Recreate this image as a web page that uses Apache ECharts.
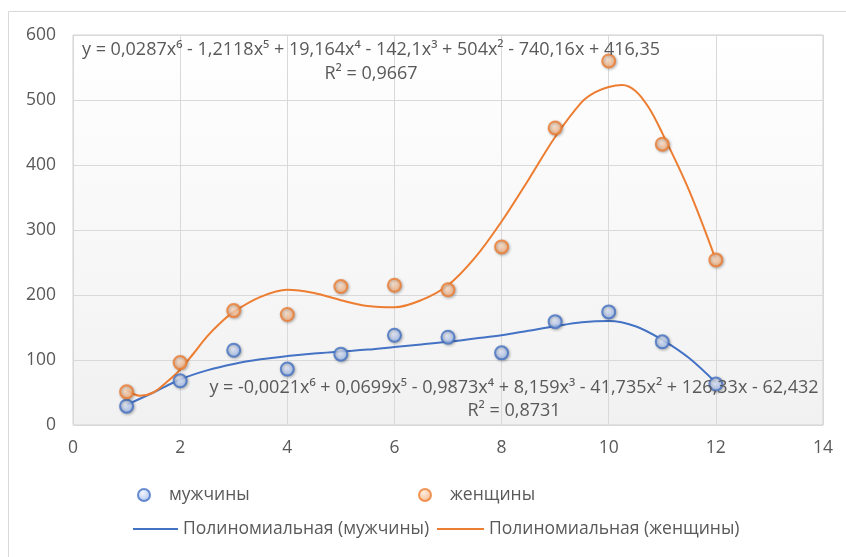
<!DOCTYPE html>
<html>
<head>
<meta charset="utf-8">
<script src="https://cdn.jsdelivr.net/npm/echarts@6/dist/echarts.min.js"></script>
<style>
html,body{margin:0;padding:0;background:#fff;}
#c{width:846px;height:557px;}
</style>
</head>
<body>
<div id="c"></div>
<script>
const months = [1, 2, 3, 4, 5, 6, 7, 8, 9, 10, 11, 12];
const men = [29, 68, 115, 86, 109, 138, 135, 111, 159, 174, 128, 63];
const women = [51, 96, 176, 170, 213, 215, 208, 274, 457, 560, 432, 254];

const menTrendX = [1, 1.5, 2, 2.5, 3, 3.5, 4, 4.5, 5, 5.5, 6, 6.5, 7, 7.5, 8, 8.5, 9, 9.5, 10, 10.5, 11, 11.5, 12];
const menTrendY = [31, 50, 70, 84, 94, 101, 106, 110, 113, 116, 120, 124, 128, 133, 138, 145, 152, 158, 160, 152, 131, 103, 65];
const womenTrendX = [1, 1.25, 1.5, 1.75, 2, 2.25, 2.5, 2.75, 3, 3.5, 4, 4.5, 5, 5.5, 6, 6.5, 7, 7.5, 8, 8.5, 9, 9.5, 9.75, 10, 10.25, 10.5, 10.75, 11, 11.5, 12];
const womenTrendY = [54, 45, 50, 66, 85, 110, 136, 157, 174, 197, 208, 203, 192, 183, 181, 192, 215, 257, 313, 377, 443, 497, 512, 520, 523, 514, 488, 449, 361, 254];

const seriesNames = ['мужчины', 'женщины', 'Полиномиальная (мужчины)', 'Полиномиальная (женщины)'];
const eqWomen = 'y = 0,0287x⁶ - 1,2118x⁵ + 19,164x⁴ - 142,1x³ + 504x² - 740,16x + 416,35';
const r2Women = 'R² = 0,9667';
const eqMen = 'y = -0,0021x⁶ + 0,0699x⁵ - 0,9873x⁴ + 8,159x³ - 41,735x² + 126,33x - 62,432';
const r2Men = 'R² = 0,8731';

const FONT = '"Open Sans", "Noto Sans", sans-serif';
const TXT = '#595959';

function zip(a, b) { return a.map((v, i) => [v, b[i]]); }

const blueFill = new echarts.graphic.RadialGradient(0.4, 0.35, 0.7, [
  {offset: 0, color: '#eef3fd'}, {offset: 1, color: '#94b1ea'}]);
const orangeFill = new echarts.graphic.RadialGradient(0.4, 0.35, 0.7, [
  {offset: 0, color: '#fee9d8'}, {offset: 1, color: '#f5a56c'}]);

const chart = echarts.init(document.getElementById('c'), null, {renderer: 'canvas'});

function legendAt(name, left, top, icon, w, h, pad) {
  return {
    data: [name], left: left, top: top, icon: icon,
    itemWidth: w, itemHeight: h, padding: 0,
    textStyle: {color: TXT, fontSize: 17.5, fontFamily: FONT, padding: [0, 0, 0, pad]}
  };
}

chart.setOption({
  animation: false,
  backgroundColor: '#fff',
  grid: {
    left: 73, right: 23, top: 35, bottom: 132,
    show: true, borderColor: '#d0d0d0', borderWidth: 1,
    backgroundColor: new echarts.graphic.LinearGradient(0, 0, 0, 1, [
      {offset: 0, color: '#ffffff'}, {offset: 1, color: '#f1f1f1'}])
  },
  xAxis: {
    type: 'value', min: 0, max: 14, interval: 2,
    axisLine: {show: false}, axisTick: {show: false},
    splitLine: {lineStyle: {color: '#d9d9d9', width: 1}},
    axisLabel: {color: TXT, fontSize: 17.5, fontFamily: FONT, margin: 14}
  },
  yAxis: {
    type: 'value', min: 0, max: 600, interval: 100,
    axisLine: {show: false}, axisTick: {show: false},
    splitLine: {lineStyle: {color: '#d9d9d9', width: 1}},
    axisLabel: {color: TXT, fontSize: 17.5, fontFamily: FONT, margin: 17}
  },
  legend: [
    legendAt(seriesNames[0], 137, 486, 'circle', 12, 12, 14),
    legendAt(seriesNames[1], 418, 486, 'circle', 12, 12, 14),
    legendAt(seriesNames[2], 133, 520, 'rect', 45, 2, 0),
    legendAt(seriesNames[3], 437, 520, 'rect', 47, 2, 0)
  ],
  series: [
    {
      name: seriesNames[2], type: 'line', smooth: 0.35, showSymbol: false, symbol: 'none',
      data: zip(menTrendX, menTrendY), z: 2,
      lineStyle: {color: '#4472C4', width: 2}, itemStyle: {color: '#4472C4'}
    },
    {
      name: seriesNames[3], type: 'line', smooth: 0.35, showSymbol: false, symbol: 'none',
      data: zip(womenTrendX, womenTrendY), z: 2,
      lineStyle: {color: '#ED7D31', width: 2}, itemStyle: {color: '#ED7D31'}
    },
    {
      name: seriesNames[0], type: 'scatter', symbol: 'circle', symbolSize: 13, z: 3,
      data: zip(months, men),
      itemStyle: {color: blueFill, borderColor: '#4472C4', borderWidth: 2,
        shadowBlur: 3, shadowColor: 'rgba(0,0,0,0.3)', shadowOffsetX: 1, shadowOffsetY: 1}
    },
    {
      name: seriesNames[1], type: 'scatter', symbol: 'circle', symbolSize: 13, z: 3,
      data: zip(months, women),
      itemStyle: {color: orangeFill, borderColor: '#ED7D31', borderWidth: 2,
        shadowBlur: 3, shadowColor: 'rgba(0,0,0,0.3)', shadowOffsetX: 1, shadowOffsetY: 1}
    }
  ],
  graphic: [
    {type: 'rect', shape: {x: 8.5, y: 11.5, width: 900, height: 600}, silent: true, z: -10,
      style: {fill: null, stroke: '#d9d9d9', lineWidth: 1}},
    {type: 'text', x: 371, y: 50, z: 10, style: {text: eqWomen, fill: TXT, font: '18px ' + FONT, textAlign: 'center', textVerticalAlign: 'middle'}},
    {type: 'text', x: 371, y: 74, z: 10, style: {text: r2Women, fill: TXT, font: '18px ' + FONT, textAlign: 'center', textVerticalAlign: 'middle'}},
    {type: 'text', x: 514, y: 388, z: 10, style: {text: eqMen, fill: TXT, font: '18px ' + FONT, textAlign: 'center', textVerticalAlign: 'middle'}},
    {type: 'text', x: 514, y: 411, z: 10, style: {text: r2Men, fill: TXT, font: '18px ' + FONT, textAlign: 'center', textVerticalAlign: 'middle'}}
  ]
});
</script>
</body>
</html>
